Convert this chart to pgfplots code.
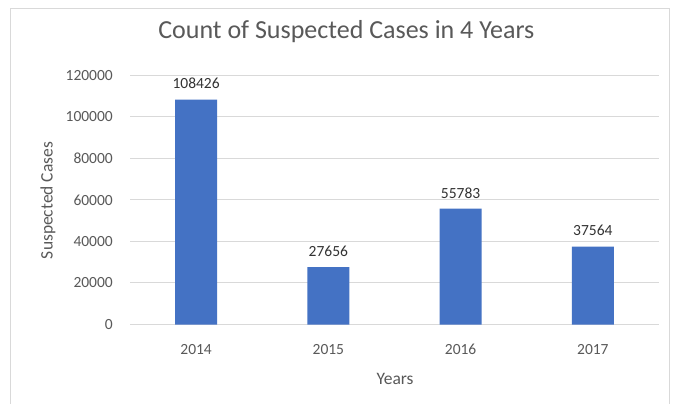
\documentclass[border=0pt]{standalone}
\usepackage{pgfplots}
\pgfplotsset{compat=1.18}
\usepackage{fontspec}
\setmainfont{Carlito}
\definecolor{barblue}{HTML}{4472C4}
\definecolor{txtgray}{HTML}{595959}
\definecolor{gridgray}{HTML}{D9D9D9}
\begin{document}
\begin{tikzpicture}
\useasboundingbox (0,0) rectangle (681bp,404bp);
\fill[white] (0,0) rectangle (681bp,404bp);
\draw[gridgray, line width=1bp] (10bp,-5bp) -- (10bp,395.5bp) -- (669bp,395.5bp) -- (669bp,-5bp);
\begin{axis}[
  at={(130bp,79.5bp)}, anchor=south west,
  scale only axis, width=529bp, height=249bp,
  xmin=-0.5, xmax=3.5, ymin=0, ymax=120000,
  xtick=data, xticklabels={2014,2015,2016,2017},
  ytick={0,20000,40000,60000,80000,100000,120000},
  scaled y ticks=false,
  /pgf/number format/assume math mode=true,
  yticklabel={\pgfmathprintnumber[fixed,use comma=false,1000 sep={}]{\tick}},
  axis line style={draw=none},
  major tick length=0pt,
  ymajorgrids, grid style={gridgray, line width=1bp},
  tick label style={font=\fontsize{15.5bp}{18bp}\selectfont, text=txtgray, inner sep=0pt},
  yticklabel style={anchor=east, xshift=-17bp},
  xticklabel style={anchor=base, yshift=-29.5bp},
  title={Count of Suspected Cases in 4 Years},
  title style={at={(rel axis cs:0.409,1.1506)}, anchor=center, font=\fontsize{26bp}{30bp}\selectfont, text=txtgray},
  xlabel={Years}, ylabel={Suspected Cases},
  xlabel style={at={(rel axis cs:0.501,-0.219)}, anchor=center, font=\fontsize{17.5bp}{21bp}\selectfont, text=txtgray},
  ylabel style={at={(rel axis cs:-0.155,0.498)}, anchor=center, rotate=0, font=\fontsize{17.5bp}{21bp}\selectfont, text=txtgray},
  nodes near coords,
  nodes near coords style={font=\fontsize{15.5bp}{18bp}\selectfont, text=black!80, anchor=south, yshift=7bp, /pgf/number format/.cd, fixed, 1000 sep={}},
  clip=false,
]
\addplot[ybar, bar width=42bp, fill=barblue, draw=none] coordinates {(0,108426) (1,27656) (2,55783) (3,37564)};
\end{axis}
\end{tikzpicture}
\end{document}
